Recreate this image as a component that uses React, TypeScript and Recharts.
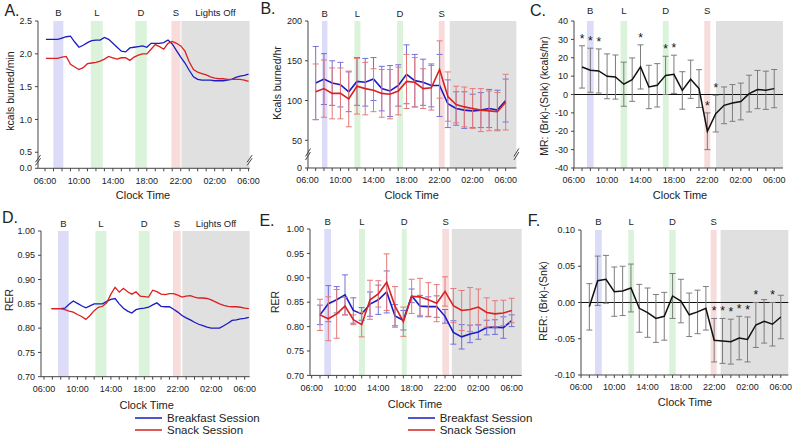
import React from "react";
import {
  ComposedChart,
  Line,
  XAxis,
  YAxis,
  ReferenceArea,
  ReferenceLine,
  ErrorBar,
  Scatter,
} from "recharts";

const FONT = "Arial, 'Liberation Sans', sans-serif";
const BLUE = "#1b1bc2";
const RED = "#d92121";
const BLUE_ERR = "#7070da";
const RED_ERR = "#e67878";
const GRAY_ERR = "#7c7c7c";
const INK = "#222";

const MEAL_B = "#dcdcf8";
const MEAL_LD = "#dbf3db";
const MEAL_S = "#f8dcdc";
const NIGHT = "#e0e0e0";

// clock axis: hourly minor ticks, labels every 4 h (hours past midnight of day 1)
const hourTicks = [6, 7, 8, 9, 10, 11, 12, 13, 14, 15, 16, 17, 18, 19, 20, 21, 22, 23, 24, 25, 26, 27, 28, 29, 30];
const labelHours = [6, 10, 14, 18, 22, 26, 30];
const labelText = ["06:00", "10:00", "14:00", "18:00", "22:00", "02:00", "06:00"];

// A. continuous energy expenditure (kcals/min)
const aHours = [6.1, 6.5, 7, 7.5, 8, 8.5, 9, 9.5, 10, 10.5, 11, 11.5, 12, 12.5, 13, 13.5, 14, 14.5, 15, 15.5, 16, 16.5, 17, 17.5, 18, 18.5, 19, 19.5, 20, 20.5, 21, 21.5, 22, 22.5, 23, 23.5, 24, 24.5, 25, 25.5, 26, 26.5, 27, 27.5, 28, 28.5, 29, 29.5, 30];
const aBreakfast = [2.22, 2.22, 2.22, 2.22, 2.24, 2.26, 2.27, 2.18, 2.1, 2.13, 2.17, 2.2, 2.21, 2.21, 2.25, 2.22, 2.16, 2.1, 2.04, 2.03, 2.09, 2.1, 2.11, 2.12, 2.1, 2.16, 2.16, 2.16, 2.17, 2.21, 2.15, 2.05, 1.95, 1.86, 1.75, 1.65, 1.61, 1.6, 1.6, 1.6, 1.59, 1.59, 1.59, 1.6, 1.61, 1.64, 1.66, 1.67, 1.69];
const aSnack = [1.93, 1.93, 1.93, 1.93, 1.95, 1.96, 1.84, 1.8, 1.76, 1.79, 1.85, 1.86, 1.87, 1.89, 1.92, 1.96, 1.94, 1.92, 1.94, 1.94, 1.9, 1.95, 1.98, 2.0, 2.0, 2.07, 2.14, 2.11, 2.07, 2.16, 2.19, 2.16, 2.12, 2.04, 1.88, 1.76, 1.72, 1.7, 1.68, 1.65, 1.63, 1.62, 1.62, 1.61, 1.61, 1.61, 1.61, 1.6, 1.58];

// D. continuous RER
const dHours = [6.9, 7.5, 8, 8.5, 9, 9.5, 10, 10.5, 11, 11.5, 12, 12.5, 13, 13.5, 14, 14.5, 15, 15.5, 16, 16.5, 17, 17.5, 18, 18.5, 19, 19.5, 20, 20.5, 21, 21.5, 22, 22.5, 23, 23.5, 24, 24.5, 25, 25.5, 26, 26.5, 27, 27.5, 28, 28.5, 29, 29.5, 30, 30.5];
const dBreakfast = [0.84, 0.84, 0.84, 0.841, 0.849, 0.856, 0.851, 0.846, 0.842, 0.846, 0.85, 0.85, 0.85, 0.855, 0.859, 0.861, 0.85, 0.841, 0.835, 0.831, 0.838, 0.84, 0.841, 0.843, 0.848, 0.852, 0.845, 0.844, 0.844, 0.839, 0.833, 0.826, 0.821, 0.817, 0.812, 0.808, 0.805, 0.802, 0.8, 0.8, 0.8, 0.805, 0.81, 0.816, 0.817, 0.819, 0.82, 0.822];
const dSnack = [0.84, 0.84, 0.84, 0.838, 0.835, 0.833, 0.828, 0.824, 0.818, 0.826, 0.836, 0.843, 0.845, 0.852, 0.87, 0.884, 0.874, 0.882, 0.875, 0.87, 0.875, 0.866, 0.865, 0.864, 0.878, 0.875, 0.87, 0.869, 0.871, 0.871, 0.868, 0.864, 0.866, 0.867, 0.864, 0.862, 0.862, 0.861, 0.858, 0.854, 0.85, 0.847, 0.845, 0.844, 0.844, 0.843, 0.841, 0.84];

// hourly bins 07:00 .. 06:00
const binHours = [7, 8, 9, 10, 11, 12, 13, 14, 15, 16, 17, 18, 19, 20, 21, 22, 23, 24, 25, 26, 27, 28, 29, 30];

// B. kcals/hr
const bBreakfast = [122, 127, 122, 120, 111, 124, 123, 127, 115, 112, 119, 133, 125, 123, 119, 119, 96, 90, 88, 87, 88, 90, 88, 100];
const bBreakfastErr = [46, 32, 28, 28, 25, 30, 30, 27, 28, 32, 26, 37, 33, 29, 27, 39, 30, 21, 23, 21, 22, 24, 25, 27];
const bSnack = [111, 115, 109, 109, 102, 118, 115, 113, 109, 108, 112, 124, 123, 115, 116, 139, 105, 95, 92, 90, 88, 87, 86, 98];
const bSnackErr = [35, 36, 32, 32, 35, 35, 33, 27, 30, 31, 30, 34, 31, 25, 28, 36, 31, 23, 25, 25, 27, 25, 24, 35];

// C. MR difference (Brk - Snk)
const cDiff = [15.0, 13.2, 12.8, 9.9, 9.5, 5.6, 8.1, 15.0, 4.1, 5.0, 10.4, 11.0, 2.2, 8.3, 3.2, -20.0, -10.4, -5.9, -4.6, -3.8, 0.5, 2.7, 2.3, 3.2];
const cErr = [11.5, 12, 12, 12.2, 12, 12, 11.8, 12, 11.8, 11.8, 10.4, 10.4, 10.2, 10.4, 10.3, 10, 10, 10, 10, 10, 10, 10.4, 10.4, 10.4];
const cSignificant = [7, 8, 9, 14, 17, 18, 22, 23];

// E. hourly RER
const eBreakfast = [0.824, 0.847, 0.855, 0.865, 0.833, 0.826, 0.846, 0.855, 0.871, 0.822, 0.813, 0.863, 0.842, 0.841, 0.841, 0.821, 0.788, 0.779, 0.785, 0.789, 0.798, 0.799, 0.798, 0.812];
const eBreakfastErr = [0.02, 0.037, 0.027, 0.041, 0.026, 0.013, 0.025, 0.03, 0.043, 0.023, 0.02, 0.014, 0.022, 0.02, 0.022, 0.014, 0.024, 0.025, 0.018, 0.015, 0.015, 0.015, 0.022, 0.012];
const eSnack = [0.824, 0.816, 0.826, 0.842, 0.814, 0.804, 0.855, 0.867, 0.891, 0.842, 0.81, 0.862, 0.861, 0.855, 0.848, 0.872, 0.843, 0.833, 0.835, 0.84, 0.829, 0.826, 0.828, 0.833];
const eSnackErr = [0.032, 0.045, 0.05, 0.018, 0.01, 0.025, 0.04, 0.027, 0.058, 0.04, 0.03, 0.035, 0.038, 0.035, 0.038, 0.03, 0.035, 0.041, 0.045, 0.037, 0.03, 0.027, 0.026, 0.025];

// F. RER difference (Brk - Snk)
const fDiff = [-0.006, 0.03, 0.032, 0.015, 0.016, 0.02, -0.008, -0.014, -0.022, -0.019, 0.009, 0.002, -0.017, -0.013, -0.008, -0.052, -0.053, -0.054, -0.049, -0.051, -0.031, -0.026, -0.03, -0.02];
const fErr = [0.032, 0.034, 0.033, 0.034, 0.034, 0.033, 0.033, 0.034, 0.033, 0.033, 0.031, 0.03, 0.03, 0.03, 0.03, 0.03, 0.031, 0.031, 0.03, 0.031, 0.031, 0.03, 0.03, 0.03];
const fSignificant = [22, 23, 24, 25, 26, 27, 29];

// meal windows / lights off, per panel: [start, end, colour, label]
type Band = [number, number, string, string];
const bandsA: Band[] = [[6.98, 8.16, MEAL_B, "B"], [11.4, 12.8, MEAL_LD, "L"], [16.64, 18.0, MEAL_LD, "D"], [20.9, 21.96, MEAL_S, "S"], [22.08, 30.12, NIGHT, "Lights Off"]];
const bandsB: Band[] = [[7.77, 8.42, MEAL_B, "B"], [11.69, 12.42, MEAL_LD, "L"], [16.85, 17.57, MEAL_LD, "D"], [21.9, 22.62, MEAL_S, "S"], [23.23, 31.3, NIGHT, ""]];
const bandsC: Band[] = [[7.59, 8.39, MEAL_B, "B"], [11.61, 12.41, MEAL_LD, "L"], [16.66, 17.37, MEAL_LD, "D"], [21.63, 22.35, MEAL_S, "S"], [23.03, 31.05, NIGHT, ""]];
const bandsD: Band[] = [[7.67, 8.95, MEAL_B, "B"], [12.15, 13.46, MEAL_LD, "L"], [17.33, 18.64, MEAL_LD, "D"], [21.43, 22.35, MEAL_S, "S"], [22.55, 30.6, NIGHT, "Lights Off"]];
const bandsE: Band[] = [[7.52, 8.32, MEAL_B, "B"], [11.68, 12.4, MEAL_LD, "L"], [16.81, 17.41, MEAL_LD, "D"], [21.68, 22.49, MEAL_S, "S"], [22.81, 31.2, NIGHT, ""]];
const bandsF: Band[] = [[7.68, 8.49, MEAL_B, "B"], [11.68, 12.37, MEAL_LD, "L"], [16.6, 17.37, MEAL_LD, "D"], [21.57, 22.29, MEAL_S, "S"], [22.77, 30.9, NIGHT, ""]];

const rowsA = aHours.map((h, i) => ({ h, b: aBreakfast[i], s: aSnack[i] }));
const rowsD = dHours.map((h, i) => ({ h, b: dBreakfast[i], s: dSnack[i] }));
const rowsB = binHours.map((h, i) => ({ h, b: bBreakfast[i], be: bBreakfastErr[i], s: bSnack[i], se: bSnackErr[i] }));
const rowsC = binHours.map((h, i) => ({ h, d: cDiff[i], e: cErr[i] }));
const rowsE = binHours.map((h, i) => ({ h, b: eBreakfast[i], be: eBreakfastErr[i], s: eSnack[i], se: eSnackErr[i] }));
const rowsF = binHours.map((h, i) => ({ h, d: fDiff[i], e: fErr[i] }));
const starsC = rowsC.filter((r) => cSignificant.includes(r.h)).map((r) => ({ h: r.h, star: r.d + r.e }));
const starsF = rowsF.filter((r) => fSignificant.includes(r.h)).map((r) => ({ h: r.h, star: r.d + r.e }));

const clockLabel = (v: number) => {
  const i = labelHours.indexOf(v);
  return i >= 0 ? labelText[i] : "";
};

const Star = (p: any) => (
  <text x={p.cx} y={p.cy - 3} textAnchor="middle" fontSize={12} fontFamily={FONT} fill="#111">
    *
  </text>
);

function breakMarks(x: number, y: number, dx: number, dy: number) {
  return [-1, 1].map((k) => (
    <ReferenceLine
      key={`brk-${x}-${k}`}
      segment={[{ x: x - dx, y: y + k * dy * 0.45 - dy }, { x: x + dx, y: y + k * dy * 0.45 + dy }]}
      stroke="#444"
      strokeWidth={1}
      ifOverflow="visible"
    />
  ));
}

function Panel({
  box, xDomain, yDomain, yTicks, yFormat, bands, labelOffset, data, children,
}: {
  box: [number, number, number, number];
  xDomain: [number, number];
  yDomain: [number, number];
  yTicks: number[];
  yFormat: (v: number) => string;
  bands: Band[];
  labelOffset: number;
  data: any[];
  children?: React.ReactNode;
}) {
  const ML = 45, MT = 25, MR = 12, MB = 25;
  const [l, t, w, h] = box;
  return (
    <div style={{ position: "absolute", left: l - ML, top: t - MT }}>
      <ComposedChart width={w + ML + MR} height={h + MT + MB} data={data} margin={{ top: MT, right: MR, bottom: 0, left: 0 }}>
        {bands.map((b) => (
          <ReferenceArea
            key={b[3] + b[0]}
            x1={b[0]}
            x2={b[1]}
            fill={b[2]}
            fillOpacity={1}
            stroke="none"
            ifOverflow="visible"
            label={{ value: b[3], position: "top", offset: labelOffset, fill: INK, fontSize: 9.5, fontFamily: FONT }}
          />
        ))}
        <XAxis
          type="number"
          dataKey="h"
          domain={xDomain}
          ticks={hourTicks}
          interval={0}
          tickFormatter={clockLabel}
          allowDataOverflow
          height={MB}
          tickSize={3}
          tickMargin={6}
          axisLine={{ stroke: "#444" }}
          tickLine={{ stroke: "#444" }}
          tick={{ fontSize: 9, fill: INK, fontFamily: FONT }}
        />
        <YAxis
          type="number"
          domain={yDomain}
          ticks={yTicks}
          interval={0}
          tickFormatter={yFormat}
          allowDataOverflow
          width={ML}
          tickSize={3}
          tickMargin={3}
          axisLine={{ stroke: "#444" }}
          tickLine={{ stroke: "#444" }}
          tick={{ fontSize: 9, fill: INK, fontFamily: FONT }}
        />
        {children}
      </ComposedChart>
    </div>
  );
}

function Title({ x, y, text, size = 11, rotate = false, bold = false }: { x: number; y: number; text: string; size?: number; rotate?: boolean; bold?: boolean }) {
  return (
    <div
      style={{
        position: "absolute",
        left: x,
        top: y,
        transform: `translate(-50%, -50%)${rotate ? " rotate(-90deg)" : ""}`,
        whiteSpace: "nowrap",
        fontFamily: FONT,
        fontSize: size,
        fontWeight: bold ? 700 : 400,
        color: INK,
        lineHeight: 1,
      }}
    >
      {text}
    </div>
  );
}

function SessionLegend({ left, top }: { left: number; top: number }) {
  const items = [
    { name: "Breakfast Session", color: BLUE },
    { name: "Snack Session", color: RED },
  ];
  return (
    <div style={{ position: "absolute", left, top, fontFamily: FONT, fontSize: 11.5, color: INK }}>
      {items.map((it, i) => (
        <div key={it.name} style={{ position: "absolute", left: 0, top: i * 11.7 - 6, height: 12, display: "flex", alignItems: "center", whiteSpace: "nowrap" }}>
          <svg width={27} height={4} style={{ marginRight: 5 }}>
            <line x1={0} x2={27} y1={2} y2={2} stroke={it.color} strokeWidth={1.5} />
          </svg>
          <span>{it.name}</span>
        </div>
      ))}
    </div>
  );
}

const fmt1 = (v: number) => (v < 0.3 ? "0.0" : v.toFixed(1));
const fmtB = (v: number) => (v < 20 ? "0" : String(v));
const fmt2 = (v: number) => v.toFixed(2);
const fmtInt = (v: number) => String(v);

export default function App() {
  return (
    <div style={{ position: "absolute", left: 0, top: 0, width: 795, height: 437, background: "#fff", overflow: "hidden" }}>
      {/* A */}
      <Panel box={[37.7, 20.7, 211.6, 147.3]} xDomain={[5.17, 30.12]} yDomain={[0.256, 2.5]} yTicks={[0.256, 0.5, 1.0, 1.5, 2.0, 2.5]} yFormat={fmt1} bands={bandsA} labelOffset={4.6} data={rowsA}>
        {breakMarks(5.17, 0.378, 0.3, 0.055)}
        {breakMarks(30.12, 0.378, 0.3, 0.055)}
        <Line dataKey="b" stroke={BLUE} strokeWidth={1.3} dot={false} isAnimationActive={false} />
        <Line dataKey="s" stroke={RED} strokeWidth={1.3} dot={false} isAnimationActive={false} />
      </Panel>

      {/* B */}
      <Panel box={[308.3, 20.7, 208.4, 147]} xDomain={[6.07, 31.3]} yDomain={[15.2, 200]} yTicks={[15.2, 50, 100, 150, 200]} yFormat={fmtB} bands={bandsB} labelOffset={4} data={rowsB}>
        {breakMarks(6.07, 32.5, 0.3, 5)}
        {breakMarks(31.3, 32.5, 0.3, 5)}
        <Line dataKey="b" stroke={BLUE} strokeWidth={1.6} dot={false} isAnimationActive={false}>
          <ErrorBar dataKey="be" width={3} stroke={BLUE_ERR} strokeWidth={1} direction="y" isAnimationActive={false} />
        </Line>
        <Line dataKey="s" stroke={RED} strokeWidth={1.6} dot={false} isAnimationActive={false}>
          <ErrorBar dataKey="se" width={3} stroke={RED_ERR} strokeWidth={1} direction="y" isAnimationActive={false} />
        </Line>
      </Panel>

      {/* C */}
      <Panel box={[574.3, 20.7, 209, 147]} xDomain={[6.04, 31.05]} yDomain={[-40, 40]} yTicks={[-40, -30, -20, -10, 0, 10, 20, 30, 40]} yFormat={fmtInt} bands={bandsC} labelOffset={7} data={rowsC}>
        <ReferenceLine y={0} stroke="#111" strokeWidth={1} />
        <Line dataKey="d" stroke="#111" strokeWidth={1.5} dot={false} isAnimationActive={false}>
          <ErrorBar dataKey="e" width={3} stroke={GRAY_ERR} strokeWidth={1} direction="y" isAnimationActive={false} />
        </Line>
        <Scatter data={starsC} dataKey="star" shape={Star} isAnimationActive={false} />
      </Panel>

      {/* D */}
      <Panel box={[41.3, 231, 208.7, 145.7]} xDomain={[5.64, 30.6]} yDomain={[0.7, 1.0]} yTicks={[0.7, 0.75, 0.8, 0.85, 0.9, 0.95, 1.0]} yFormat={fmt2} bands={bandsD} labelOffset={3.6} data={rowsD}>
        <Line dataKey="b" stroke={BLUE} strokeWidth={1.3} dot={false} isAnimationActive={false} />
        <Line dataKey="s" stroke={RED} strokeWidth={1.3} dot={false} isAnimationActive={false} />
      </Panel>

      {/* E */}
      <Panel box={[310, 229.3, 211.7, 146.4]} xDomain={[5.8, 31.2]} yDomain={[0.7, 1.0]} yTicks={[0.7, 0.75, 0.8, 0.85, 0.9, 0.95, 1.0]} yFormat={fmt2} bands={bandsE} labelOffset={4.2} data={rowsE}>
        <Line dataKey="b" stroke={BLUE} strokeWidth={1.6} dot={false} isAnimationActive={false}>
          <ErrorBar dataKey="be" width={3} stroke={BLUE_ERR} strokeWidth={1} direction="y" isAnimationActive={false} />
        </Line>
        <Line dataKey="s" stroke={RED} strokeWidth={1.6} dot={false} isAnimationActive={false}>
          <ErrorBar dataKey="se" width={3} stroke={RED_ERR} strokeWidth={1} direction="y" isAnimationActive={false} />
        </Line>
      </Panel>

      {/* F */}
      <Panel box={[581, 230, 207.3, 145]} xDomain={[6.0, 30.9]} yDomain={[-0.1, 0.1]} yTicks={[-0.1, -0.05, 0, 0.05, 0.1]} yFormat={fmt2} bands={bandsF} labelOffset={4.9} data={rowsF}>
        <ReferenceLine y={0} stroke="#111" strokeWidth={1} />
        <Line dataKey="d" stroke="#111" strokeWidth={1.5} dot={false} isAnimationActive={false}>
          <ErrorBar dataKey="e" width={3} stroke={GRAY_ERR} strokeWidth={1} direction="y" isAnimationActive={false} />
        </Line>
        <Scatter data={starsF} dataKey="star" shape={Star} isAnimationActive={false} />
      </Panel>

      {/* panel letters */}
      <Title x={12} y={10.5} text="A." size={16} />
      <Title x={268} y={9} text="B." size={16} />
      <Title x={538} y={11} text="C." size={16} />
      <Title x={10} y={218} text="D." size={16} />
      <Title x={267} y={221} text="E." size={16} />
      <Title x={534} y={221} text="F." size={16} />

      {/* axis titles */}
      <Title x={10} y={91} text="kcals burned/min" size={10.5} rotate />
      <Title x={276.7} y={83} text="Kcals burned/hr" size={10.5} rotate />
      <Title x={544} y={96} text="MR: (Brk)-(Snk) (kcals/hr)" size={10.5} rotate />
      <Title x={8.5} y={300} text="RER" size={10.5} rotate />
      <Title x={275} y={302} text="RER" size={10.5} rotate />
      <Title x={543.3} y={301} text="RER: (Brk)-(Snk)" size={10.5} rotate />

      <Title x={143} y={195} text="Clock Time" />
      <Title x={411.7} y={195} text="Clock Time" />
      <Title x={680} y={195} text="Clock Time" />
      <Title x={146.7} y={405} text="Clock Time" />
      <Title x={415} y={404} text="Clock Time" />
      <Title x={685} y={401.7} text="Clock Time" />

      <SessionLegend left={135} top={418.3} />
      <SessionLegend left={407.7} top={418.3} />
    </div>
  );
}
